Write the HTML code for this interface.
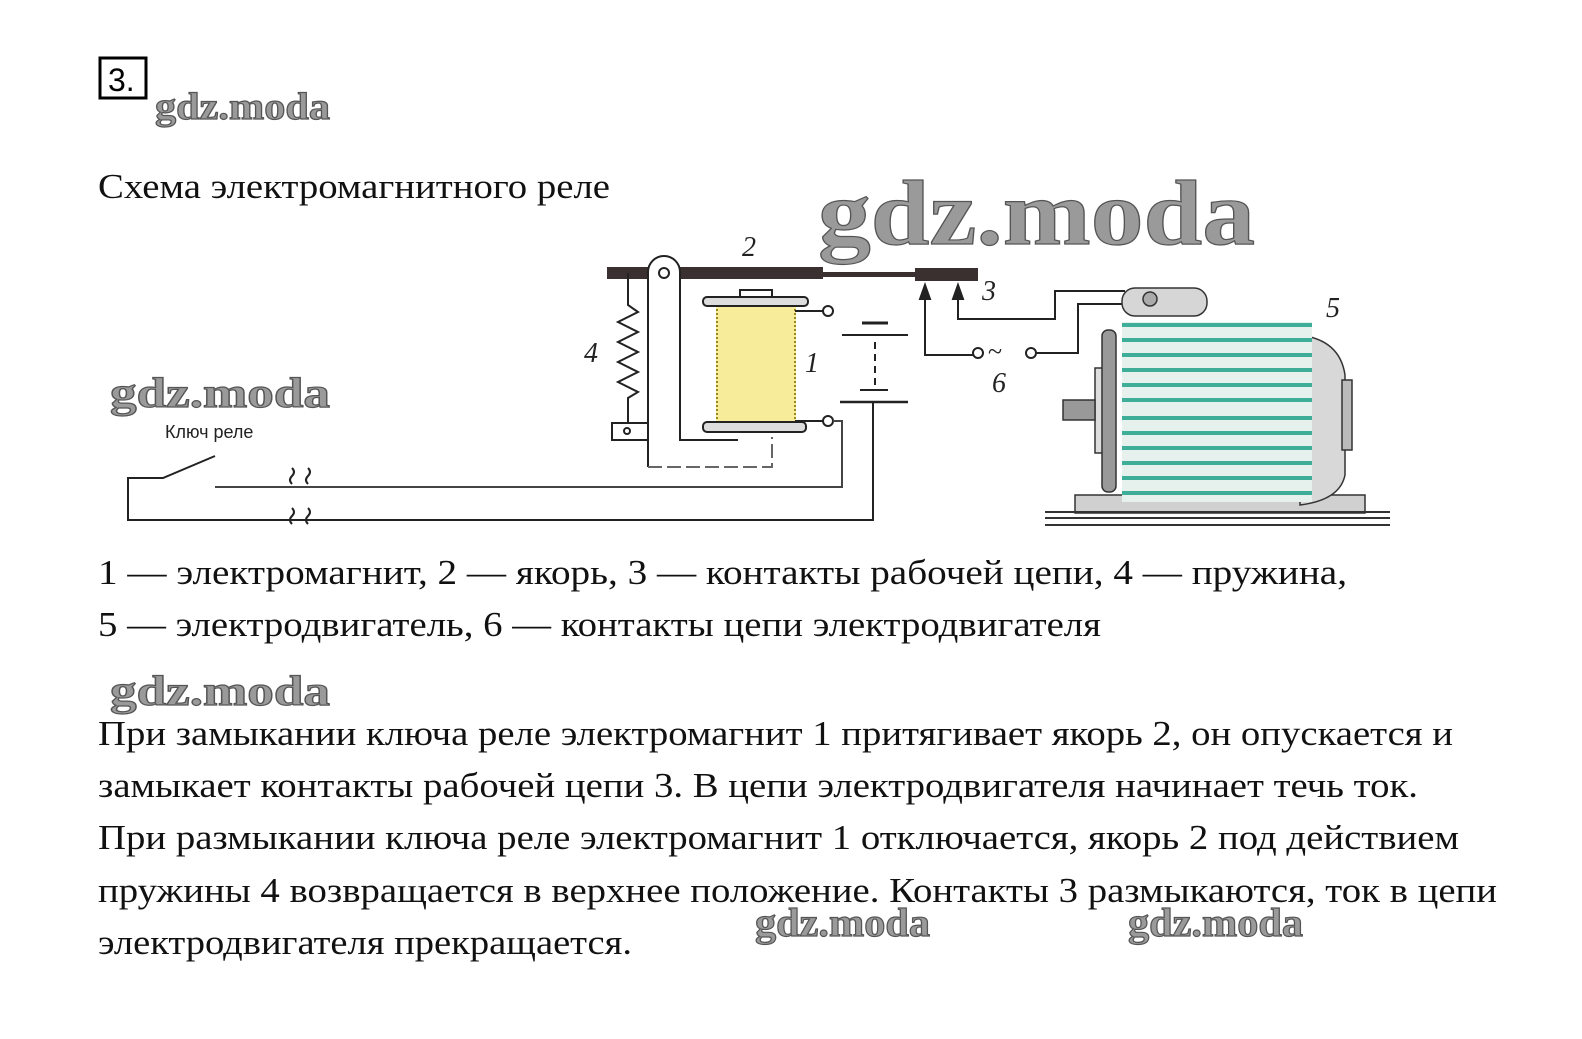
<!DOCTYPE html>
<html><head><meta charset="utf-8"><style>
html,body{margin:0;padding:0;background:#fff;}
svg{display:block;}
.t{font-family:"Liberation Serif",serif;font-size:35px;fill:#111;}
.wm{font-family:"Liberation Serif",serif;font-weight:bold;fill:#9a9a9a;stroke:#555;stroke-width:1.2;}
.lab{font-family:"Liberation Serif",serif;font-style:italic;font-size:28px;fill:#222;}
</style></head><body>
<svg width="1582" height="1039" viewBox="0 0 1582 1039" xmlns="http://www.w3.org/2000/svg">
<rect width="1582" height="1039" fill="#fff"/>
<!-- header -->
<rect x="100" y="58" width="46" height="40" fill="none" stroke="#000" stroke-width="3"/>
<text x="108" y="91" font-family="Liberation Sans,sans-serif" font-size="32" fill="#000">3.</text>
<text class="wm" x="155" y="119" font-size="38" textLength="175" lengthAdjust="spacingAndGlyphs">gdz.moda</text>

<text class="t" x="98" y="198" textLength="512" lengthAdjust="spacingAndGlyphs">Схема электромагнитного реле</text>
<text class="wm" x="818" y="244" font-size="92" textLength="437" lengthAdjust="spacingAndGlyphs" stroke-width="2">gdz.moda</text>
<text class="wm" x="110" y="407" font-size="42" textLength="220" lengthAdjust="spacingAndGlyphs">gdz.moda</text>
<text x="165" y="438" font-family="Liberation Sans,sans-serif" font-size="18" fill="#222">Ключ реле</text>

<!-- diagram -->
<g fill="none" stroke="#222" stroke-width="2">
 <!-- armature -->
 <rect x="607" y="267" width="216" height="12" fill="#3a3030" stroke="none"/>
 <rect x="823" y="272" width="92" height="5" fill="#3a3030" stroke="none"/>
 <rect x="915" y="268" width="63" height="13" fill="#3a3030" stroke="none"/>
 <!-- pivot post -->
 <path d="M648 467 V272 a16 16 0 0 1 32 0 V440 H738" fill="#fff"/>
 <path d="M648 467 H772 V437" stroke="#666" stroke-dasharray="14 5"/>
 <circle cx="664" cy="273" r="5" fill="#fff"/>
 <!-- spring -->
 <path d="M628 273 V305 L638 312 L618 322 L638 332 L618 342 L638 352 L618 362 L638 372 L618 382 L638 392 L628 398 V430"/>
 <rect x="612" y="423" width="36" height="17" fill="#fff"/>
 <circle cx="627" cy="431" r="3"/>
 <!-- coil -->
 <rect x="716" y="304" width="80" height="118" fill="#f6ec9a" stroke="none"/>
 <line x1="717" y1="305" x2="717" y2="422" stroke="#9a8a20" stroke-dasharray="2 2"/>
 <line x1="795" y1="305" x2="795" y2="422" stroke="#9a8a20" stroke-dasharray="2 2"/>
 <rect x="740" y="290" width="32" height="7" fill="#fff"/>
 <rect x="703" y="297" width="105" height="9" rx="4" fill="#ddd"/>
 <rect x="703" y="422" width="103" height="10" rx="4" fill="#ddd"/>
 <!-- terminals & battery -->
 <path d="M795 311 H823"/>
 <circle cx="828" cy="311" r="5" fill="#fff"/>
 <path d="M795 421 H823"/>
 <circle cx="828" cy="421" r="5" fill="#fff"/>
 <path d="M833 421 H842 V487 H215" stroke="#444"/>
 <line x1="862" y1="323" x2="888" y2="323" stroke-width="3"/>
 <line x1="842" y1="335" x2="908" y2="335"/>
 <line x1="875" y1="342" x2="875" y2="385" stroke-dasharray="7 5"/>
 <line x1="860" y1="390" x2="888" y2="390"/>
 <line x1="840" y1="402" x2="908" y2="402" stroke-width="2.5"/>
 <path d="M873 402 V520 H128 V478 H163 L215 456"/>
 <!-- breaks -->
 <g stroke-width="2">
  <path d="M292 468 q4 4 0 8 q-4 4 0 8"/><path d="M308 468 q4 4 0 8 q-4 4 0 8"/>
  <path d="M292 508 q4 4 0 8 q-4 4 0 8"/><path d="M308 508 q4 4 0 8 q-4 4 0 8"/>
 </g>
 <!-- contacts 3 & 6 -->
 <path d="M925 295 V355 H973"/>
 <polygon points="925,285 920,299 930,299" fill="#222"/>
 <path d="M958 295 V319 H1055 V291 H1125"/>
 <polygon points="958,285 953,299 963,299" fill="#222"/>
 <circle cx="978" cy="353" r="5" fill="#fff"/>
 <circle cx="1031" cy="353" r="5" fill="#fff"/>
 <path d="M1036 353 H1078 V304 H1130"/>
</g>
<text x="988" y="360" font-family="Liberation Serif,serif" font-size="26" fill="#222">~</text>

<!-- motor -->
<g stroke="#333" stroke-width="1.5">
 <rect x="1122" y="288" width="85" height="28" rx="13" fill="#d6d6d6"/>
 <circle cx="1150" cy="299" r="7" fill="#aaa"/>
 <rect x="1075" y="495" width="290" height="18" fill="#d0d0d0"/>
 <path d="M1300 335 q40 5 45 40 v100 q-5 25 -45 30 z" fill="#d8d8d8"/>
 <rect x="1342" y="380" width="10" height="70" fill="#bbb"/>
 <rect x="1122" y="322" width="190" height="180" fill="#e6f1ee" stroke="none"/>
 <g stroke="#3fae98" stroke-width="4">
  <line x1="1122" y1="325" x2="1312" y2="325"/><line x1="1122" y1="340" x2="1312" y2="340"/>
  <line x1="1122" y1="355" x2="1312" y2="355"/><line x1="1122" y1="370" x2="1312" y2="370"/>
  <line x1="1122" y1="385" x2="1312" y2="385"/><line x1="1122" y1="400" x2="1312" y2="400"/>
  <line x1="1122" y1="418" x2="1312" y2="418"/><line x1="1122" y1="433" x2="1312" y2="433"/>
  <line x1="1122" y1="448" x2="1312" y2="448"/><line x1="1122" y1="463" x2="1312" y2="463"/>
  <line x1="1122" y1="478" x2="1312" y2="478"/><line x1="1122" y1="493" x2="1312" y2="493"/>
 </g>
 <rect x="1095" y="368" width="14" height="85" fill="#ddd"/>
 <rect x="1063" y="400" width="32" height="20" fill="#999"/>
 <rect x="1102" y="330" width="14" height="162" rx="6" fill="#999"/>
</g>
<g stroke="#333" stroke-width="2">
 <line x1="1045" y1="512" x2="1390" y2="512"/><line x1="1045" y1="518" x2="1390" y2="518"/><line x1="1045" y1="525" x2="1390" y2="525"/>
</g>

<text class="lab" x="742" y="256">2</text>
<text class="lab" x="982" y="300">3</text>
<text class="lab" x="584" y="362">4</text>
<text class="lab" x="805" y="372">1</text>
<text class="lab" x="1326" y="317">5</text>
<text class="lab" x="992" y="392">6</text>

<!-- captions -->
<text class="t" x="98" y="584" textLength="1249" lengthAdjust="spacingAndGlyphs">1 — электромагнит, 2 — якорь, 3 — контакты рабочей цепи,  4 — пружина,</text>
<text class="t" x="98" y="636" textLength="1003" lengthAdjust="spacingAndGlyphs">5 — электродвигатель, 6 — контакты цепи электродвигателя</text>
<text class="wm" x="110" y="705" font-size="42" textLength="220" lengthAdjust="spacingAndGlyphs">gdz.moda</text>

<text class="t" x="98" y="745" textLength="1355" lengthAdjust="spacingAndGlyphs">При замыкании ключа реле электромагнит 1 притягивает якорь 2, он опускается и</text>
<text class="t" x="98" y="797" textLength="1320" lengthAdjust="spacingAndGlyphs">замыкает контакты рабочей цепи 3. В цепи электродвигателя начинает течь ток.</text>
<text class="t" x="98" y="849" textLength="1361" lengthAdjust="spacingAndGlyphs">При размыкании ключа реле электромагнит 1 отключается, якорь 2 под действием</text>
<text class="t" x="98" y="902" textLength="1399" lengthAdjust="spacingAndGlyphs">пружины 4 возвращается в верхнее положение. Контакты 3 размыкаются, ток в цепи</text>
<text class="t" x="98" y="954" textLength="534" lengthAdjust="spacingAndGlyphs">электродвигателя прекращается.</text>
<text class="wm" x="755" y="936" font-size="40" textLength="175" lengthAdjust="spacingAndGlyphs">gdz.moda</text>
<text class="wm" x="1128" y="936" font-size="40" textLength="175" lengthAdjust="spacingAndGlyphs">gdz.moda</text>
</svg>
</body></html>
